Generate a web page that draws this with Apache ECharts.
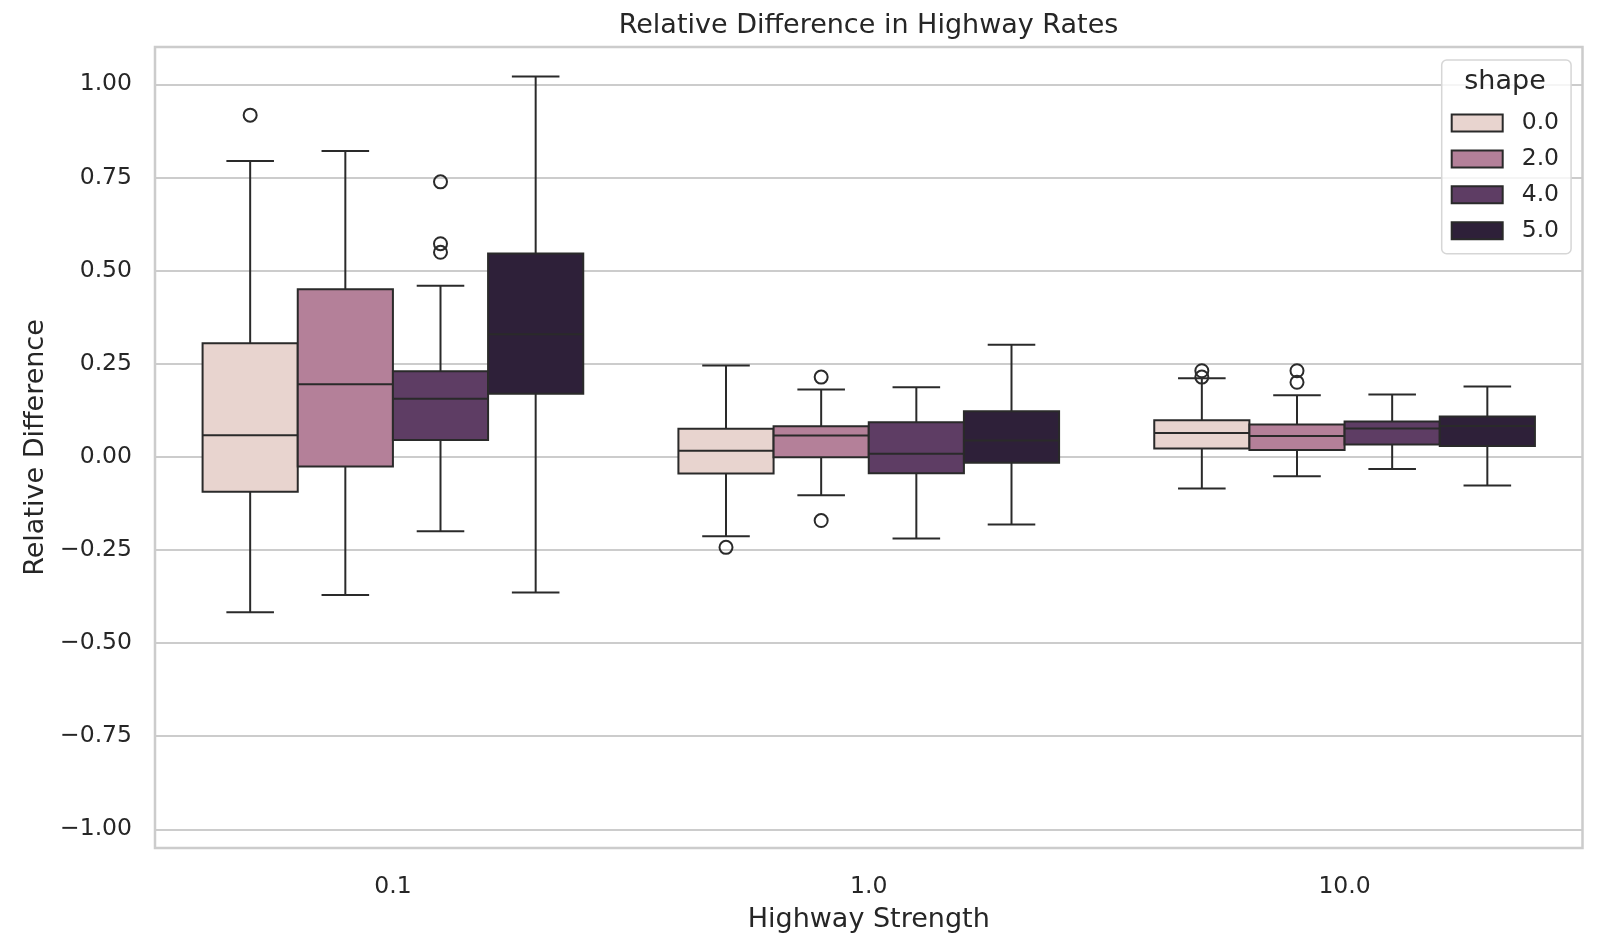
<!DOCTYPE html>
<html>
<head>
<meta charset="utf-8">
<title>Relative Difference in Highway Rates</title>
<script src="https://cdn.jsdelivr.net/npm/echarts@6/dist/echarts.min.js"></script>
<style>
  html, body { margin: 0; padding: 0; background: #ffffff; }
  #chart { width: 1605px; height: 938px; }
</style>
</head>
<body>
<div id="chart"></div>
<script>
// Highway strength categories (x axis) and shape levels (hue)
const strengths = ['0.1', '1.0', '10.0'];
const shapes = ['0.0', '2.0', '4.0', '5.0'];

// Box statistics per shape, one row per strength: [low whisker, Q1, median, Q3, high whisker]
const shape0Boxes = [
  [-0.417, -0.094, 0.058, 0.305, 0.794],
  [-0.213, -0.045, 0.016, 0.075, 0.245],
  [-0.085, 0.022, 0.064, 0.098, 0.211]
];
const shape2Boxes = [
  [-0.371, -0.026, 0.195, 0.450, 0.821],
  [-0.103, -0.001, 0.057, 0.082, 0.181],
  [-0.052, 0.018, 0.056, 0.087, 0.165]
];
const shape4Boxes = [
  [-0.200, 0.045, 0.156, 0.230, 0.459],
  [-0.219, -0.044, 0.008, 0.093, 0.187],
  [-0.033, 0.033, 0.076, 0.095, 0.167]
];
const shape5Boxes = [
  [-0.364, 0.169, 0.329, 0.546, 1.021],
  [-0.182, -0.016, 0.044, 0.122, 0.301],
  [-0.077, 0.029, 0.083, 0.108, 0.189]
];

// Outliers: [strength index, shape index, value]
const outliers = [
  [0, 0, 0.917],
  [0, 2, 0.738], [0, 2, 0.572], [0, 2, 0.549],
  [1, 0, -0.243],
  [1, 1, 0.214], [1, 1, -0.171],
  [2, 0, 0.231], [2, 0, 0.214],
  [2, 1, 0.231], [2, 1, 0.200]
];

const shapeColors = ['#e8d4cf', '#b48099', '#5e3d64', '#2e2039'];
const edgeColor = '#2a2a2a';
const textColor = '#262626';
const gridColor = '#cccccc';
const fontFamily = "'DejaVu Sans', sans-serif";
const boxLineWidth = 2;

const allBoxes = [shape0Boxes, shape2Boxes, shape4Boxes, shape5Boxes];
const groupFraction = 0.8; // share of each category band taken by the four boxes

function boxOffset(api, k) {
  const band = api.size([1, 0])[0];
  const bw = band * groupFraction / shapes.length;
  return { bw: bw, dx: (k - (shapes.length - 1) / 2) * bw };
}

function makeBoxSeries(k) {
  const data = allBoxes[k].map((row, i) => [i].concat(row));
  return {
    type: 'custom',
    name: shapes[k],
    itemStyle: { color: shapeColors[k], borderColor: edgeColor, borderWidth: boxLineWidth },
    encode: { x: 0, y: [1, 2, 3, 4, 5] },
    data: data,
    z: 3,
    renderItem: function (params, api) {
      const cat = api.value(0);
      const o = boxOffset(api, k);
      const cx = api.coord([cat, 0])[0] + o.dx;
      const half = o.bw / 2;
      const cap = o.bw / 4;
      const yLow = api.coord([cat, api.value(1)])[1];
      const yQ1 = api.coord([cat, api.value(2)])[1];
      const yMed = api.coord([cat, api.value(3)])[1];
      const yQ3 = api.coord([cat, api.value(4)])[1];
      const yHigh = api.coord([cat, api.value(5)])[1];
      const line = { stroke: edgeColor, lineWidth: boxLineWidth, fill: null };
      return {
        type: 'group',
        children: [
          { type: 'line', shape: { x1: cx, y1: yQ3, x2: cx, y2: yHigh }, style: line },
          { type: 'line', shape: { x1: cx, y1: yQ1, x2: cx, y2: yLow }, style: line },
          { type: 'line', shape: { x1: cx - cap, y1: yHigh, x2: cx + cap, y2: yHigh }, style: line },
          { type: 'line', shape: { x1: cx - cap, y1: yLow, x2: cx + cap, y2: yLow }, style: line },
          {
            type: 'rect',
            shape: { x: cx - half, y: yQ3, width: o.bw, height: yQ1 - yQ3 },
            style: { fill: shapeColors[k], stroke: edgeColor, lineWidth: boxLineWidth }
          },
          { type: 'line', shape: { x1: cx - half, y1: yMed, x2: cx + half, y2: yMed }, style: line }
        ]
      };
    }
  };
}

const outlierSeries = {
  type: 'custom',
  name: 'outliers',
  encode: { x: 0, y: 2 },
  data: outliers,
  z: 4,
  renderItem: function (params, api) {
    const cat = api.value(0);
    const k = api.value(1);
    const o = boxOffset(api, k);
    const p = api.coord([cat, api.value(2)]);
    return {
      type: 'circle',
      shape: { cx: p[0] + o.dx, cy: p[1], r: 6.5 },
      style: { fill: 'rgba(0,0,0,0)', stroke: edgeColor, lineWidth: 2 }
    };
  }
};

function tickText(v) {
  if (Math.abs(v * 4 - Math.round(v * 4)) > 1e-6) return '';
  const s = Math.abs(v).toFixed(2);
  return (v < -1e-9 ? '\u2212' : '') + s;
}

const chart = echarts.init(document.getElementById('chart'), null, { renderer: 'canvas' });

chart.setOption({
  animation: false,
  backgroundColor: '#ffffff',
  textStyle: { fontFamily: fontFamily },
  grid: {
    left: 155, right: 22.5, top: 47, bottom: 85.3,
    show: true, borderColor: gridColor, borderWidth: 2.5, backgroundColor: '#ffffff'
  },
  xAxis: {
    type: 'category',
    data: strengths,
    boundaryGap: true,
    axisLine: { show: false },
    axisTick: { show: false },
    splitLine: { show: false },
    axisLabel: { fontSize: 23.5, color: textColor, margin: 27, fontFamily: fontFamily },
    name: 'Highway Strength',
    nameLocation: 'middle',
    nameGap: 58,
    nameTextStyle: { fontSize: 27, color: textColor, fontFamily: fontFamily }
  },
  yAxis: {
    type: 'value',
    min: -1.05,
    max: 1.1,
    minInterval: 0.25,
    maxInterval: 0.25,
    axisLine: { show: false },
    axisTick: { show: false },
    splitLine: { lineStyle: { color: gridColor, width: 2 } },
    axisLabel: {
      fontSize: 23.5, color: textColor, margin: 23, fontFamily: fontFamily,
      padding: [6, 0, 0, 0],
      showMinLabel: false, showMaxLabel: false,
      formatter: tickText
    },
    name: 'Relative Difference',
    nameLocation: 'middle',
    nameGap: 106,
    nameTextStyle: { fontSize: 27, color: textColor, fontFamily: fontFamily }
  },
  legend: {
    orient: 'vertical',
    left: 1441.7,
    top: 60,
    padding: [51, 12, 11, 9],
    itemWidth: 51,
    itemHeight: 17,
    itemGap: 11.9,
    icon: 'rect',
    data: shapes,
    backgroundColor: 'rgba(255,255,255,0.8)',
    borderColor: '#d6d6d6',
    borderWidth: 1.5,
    borderRadius: 5,
    itemStyle: { borderColor: edgeColor, borderWidth: 2 },
    textStyle: { fontSize: 23.5, color: textColor, lineHeight: 17, padding: [0, 0, 0, 14], fontFamily: fontFamily },
    selectedMode: false
  },
  graphic: [
    {
      type: 'text',
      x: 868.5, y: 26, z: 10,
      style: {
        text: 'Relative Difference in Highway Rates',
        align: 'center', verticalAlign: 'middle',
        font: "27px 'DejaVu Sans', sans-serif",
        fill: textColor
      }
    },
    {
      type: 'text',
      x: 1505, y: 82, z: 10,
      style: {
        text: 'shape',
        align: 'center', verticalAlign: 'middle',
        font: "27px 'DejaVu Sans', sans-serif",
        fill: textColor
      }
    }
  ],
  series: [makeBoxSeries(0), makeBoxSeries(1), makeBoxSeries(2), makeBoxSeries(3), outlierSeries]
});
</script>
</body>
</html>
